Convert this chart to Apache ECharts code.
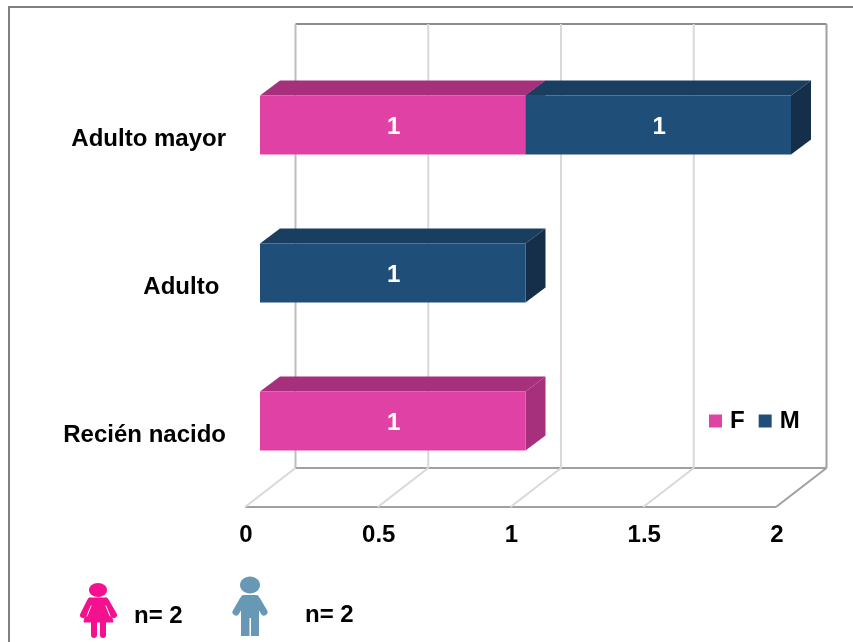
<!DOCTYPE html>
<html>
<head>
<meta charset="utf-8">
<style>
  html, body { margin: 0; padding: 0; background: #fff; }
  #chart { width: 853px; height: 642px; }
</style>
<script src="https://cdn.jsdelivr.net/npm/echarts@6/dist/echarts.min.js"></script>
</head>
<body>
<div id="chart"></div>
<script>
var categories = ['Recién nacido', 'Adulto', 'Adulto mayor']
var femaleValues = [1, 0, 1]
var maleValues = [0, 1, 1]
var xTicks = [0, 0.5, 1, 1.5, 2]

var font = '"Liberation Sans", Arial, sans-serif'
// depth of the fake 3d box
var wallDx = 50.5
var wallDy = -39
var barDx = 15
var barDy = -14
var sideDx = 20
var sideDy = -15
var barHeight = 59
// the grid sits a bit lower than the box so the category labels line up
var gridShift = 2

function poly(points, fill) {
  return { type: 'polygon', shape: { points: points }, style: { fill: fill } }
}

function seg(x1, y1, x2, y2, color, width) {
  return {
    type: 'line',
    shape: { x1: x1, y1: y1, x2: x2, y2: y2 },
    style: { stroke: color, lineWidth: width, fill: null },
  }
}

// round ended stroke for the people icons
function limb(x1, y1, x2, y2, color, width) {
  return {
    type: 'line',
    shape: { x1: x1, y1: y1, x2: x2, y2: y2 },
    style: { stroke: color, lineWidth: width, lineCap: 'round' },
  }
}

function renderFrame(params, api) {
  var sys = params.coordSys
  var bottom = sys.y + sys.height - gridShift
  var top = sys.y - gridShift
  var v = api.value(0)
  var x = api.coord([v, 0])[0]
  var children = []
  if (v === 0) {
    var xEnd = api.coord([2, 0])[0]
    children.push(seg(x + wallDx, top + wallDy, xEnd + wallDx, top + wallDy, '#8c8c8c', 2))
    children.push(seg(x, bottom, xEnd, bottom, '#a0a0a0', 2))
    children.push(seg(x + wallDx, bottom + wallDy, xEnd + wallDx, bottom + wallDy, '#a0a0a0', 2))
  }
  var isEnd = v === 2
  var wallColor = isEnd ? '#a0a0a0' : v === 0 ? '#bdbdbd' : '#d9d9d9'
  children.push(seg(x, bottom, x + wallDx, bottom + wallDy, isEnd ? '#a0a0a0' : '#d9d9d9', 2))
  children.push(seg(x + wallDx, top + wallDy, x + wallDx, bottom + wallDy, wallColor, 2))
  return { type: 'group', children: children }
}

function renderBar(colors) {
  return function (params, api) {
    var value = api.value(0)
    if (!value) return null
    var start = api.value(2)
    var p0 = api.coord([start, api.value(1)])
    var p1 = api.coord([start + value, api.value(1)])
    var x0 = p0[0] + barDx
    var x1 = p1[0] + barDx
    var yTop = p0[1] + barDy - barHeight / 2
    var yBot = yTop + barHeight
    return {
      type: 'group',
      children: [
        poly([[x0, yTop], [x0 + sideDx, yTop + sideDy], [x1 + sideDx, yTop + sideDy], [x1, yTop]], colors[1]),
        poly([[x1, yTop], [x1 + sideDx, yTop + sideDy], [x1 + sideDx, yBot + sideDy], [x1, yBot]], colors[2]),
        { type: 'rect', shape: { x: x0, y: yTop, width: x1 - x0, height: barHeight }, style: { fill: colors[0] } },
        {
          type: 'text',
          x: (x0 + x1) / 2 + 1,
          y: (yTop + yBot) / 2 + 2,
          style: {
            text: String(value),
            fill: '#fff',
            font: 'bold 24px ' + font,
            align: 'center',
            verticalAlign: 'middle',
          },
        },
      ],
    }
  }
}

var femaleData = femaleValues.map(function (v, i) { return [v, i, 0] })
var maleData = maleValues.map(function (v, i) { return [v, i, femaleValues[i]] })

var pink = '#f5108f'
var steel = '#6798b5'

var myChart = echarts.init(document.getElementById('chart'), null, { renderer: 'canvas' })
myChart.setOption({
  animation: false,
  backgroundColor: '#fff',
  grid: { left: 245, width: 531, top: 63 + gridShift, height: 444 },
  legend: {
    data: [
      { name: 'F', itemStyle: { color: '#df41a5' } },
      { name: 'M', itemStyle: { color: '#1f4e79' } },
    ],
    left: 704,
    top: 404,
    icon: 'rect',
    itemWidth: 13,
    itemHeight: 13,
    itemGap: 14,
    textStyle: { fontFamily: font, fontWeight: 'bold', fontSize: 24, color: '#000', padding: [0, 0, 0, 3] },
  },
  xAxis: {
    type: 'value',
    min: 0,
    max: 2,
    interval: 0.5,
    axisLine: { show: false },
    axisTick: { show: false },
    splitLine: { show: false },
    axisLabel: { margin: 16 - gridShift, padding: [0, 0, 0, 2], color: '#000', fontFamily: font, fontWeight: 'bold', fontSize: 24 },
  },
  yAxis: {
    type: 'category',
    data: categories,
    axisLine: { show: false },
    axisTick: { show: false },
    axisLabel: {
      margin: 19,
      color: '#000',
      fontFamily: font,
      fontWeight: 'bold',
      fontSize: 24,
      formatter: function (value) {
        return value === 'Adulto' ? value + '\u00a0' : value
      },
    },
  },
  graphic: [
    // outer border of the picture
    {
      type: 'polyline',
      shape: { points: [[9, 650], [9, 7], [860, 7]] },
      style: { stroke: '#808080', lineWidth: 2, fill: null },
    },
    { type: 'text', x: 134, y: 604, style: { text: 'n= 2', font: 'bold 24px ' + font, fill: '#000' } },
    { type: 'text', x: 305, y: 603, style: { text: 'n= 2', font: 'bold 24px ' + font, fill: '#000' } },
    // woman icon
    {
      type: 'group',
      children: [
        { type: 'ellipse', shape: { cx: 98, cy: 590, rx: 9, ry: 7 }, style: { fill: pink } },
        { type: 'polygon', shape: { points: [[89, 598], [107, 598], [113, 622], [84, 622]] }, style: { fill: pink, stroke: pink, lineWidth: 1, lineJoin: 'round' } },
        limb(90, 601, 83, 615, pink, 6),
        limb(106, 601, 114, 615, pink, 6),
        limb(94, 622, 94, 635, pink, 6),
        limb(103, 622, 103, 635, pink, 6),
        limb(91, 606, 87, 616, '#fff', 1),
        limb(106, 606, 110, 616, '#fff', 1),
      ],
    },
    // man icon
    {
      type: 'group',
      children: [
        { type: 'ellipse', shape: { cx: 250, cy: 585, rx: 10, ry: 8.5 }, style: { fill: steel } },
        { type: 'rect', shape: { x: 241, y: 595, width: 18, height: 23, r: 3 }, style: { fill: steel } },
        limb(243, 600, 236, 612, steel, 7),
        limb(257, 600, 264, 612, steel, 7),
        { type: 'rect', shape: { x: 241, y: 616, width: 8.5, height: 20 }, style: { fill: steel } },
        { type: 'rect', shape: { x: 251, y: 616, width: 8, height: 20 }, style: { fill: steel } },
      ],
    },
  ],
  series: [
    {
      name: 'frame',
      type: 'custom',
      coordinateSystem: 'cartesian2d',
      clip: false,
      silent: true,
      renderItem: renderFrame,
      encode: { x: 0, y: 1 },
      data: xTicks.map(function (v) { return [v, 0] }),
      z: 1,
    },
    {
      name: 'F',
      type: 'custom',
      coordinateSystem: 'cartesian2d',
      clip: false,
      renderItem: renderBar(['#df41a5', '#a6307b', '#a6307b']),
      encode: { x: 0, y: 1 },
      itemStyle: { color: '#df41a5' },
      data: femaleData,
      z: 2,
    },
    {
      name: 'M',
      type: 'custom',
      coordinateSystem: 'cartesian2d',
      clip: false,
      renderItem: renderBar(['#1f4e79', '#193e60', '#152f4a']),
      encode: { x: 0, y: 1 },
      itemStyle: { color: '#1f4e79' },
      data: maleData,
      z: 3,
    },
  ],
})
</script>
</body>
</html>
